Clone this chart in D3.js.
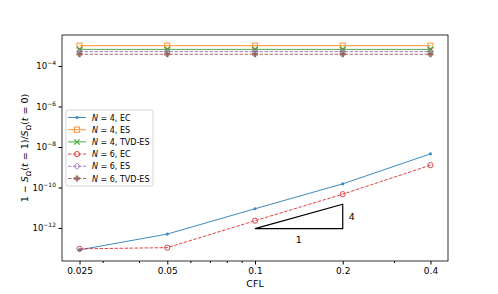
<!DOCTYPE html>
<html lang="en">
<head>
<meta charset="UTF-8">
<title>Entropy decay vs CFL</title>
<script src="https://d3js.org/d3.v7.min.js"></script>
<style>
    body { margin: 0; background: #fff; }
    text { font-family: "DejaVu Sans", sans-serif; fill: #000; }
</style>
</head>
<body>
<div id="chart"></div>
<script>
    // CFL values (x) and log10 of the entropy loss for each run
    const cfl = [0.025, 0.05, 0.1, 0.2, 0.4];
    const xTicks = [0.025, 0.05, 0.1, 0.2, 0.4];
    const xMinor = [0.03, 0.04, 0.06, 0.07, 0.08, 0.09, 0.3];
    const yTicks = [-12, -10, -8, -6, -4];

    const n4EC    = [-13.08, -12.30, -11.05, -9.82, -8.34];
    const n4ES    = [-3.00, -3.00, -3.00, -3.00, -3.00];
    const n4TVD   = [-3.18, -3.18, -3.18, -3.18, -3.18];
    const n6EC    = [-13.03, -12.97, -11.64, -10.33, -8.90];
    const n6ES    = [-3.29, -3.29, -3.29, -3.29, -3.29];
    const n6TVD   = [-3.42, -3.42, -3.42, -3.42, -3.42];

    const seriesNames = ["N4EC", "N4ES", "N4TVD", "N6EC", "N6ES", "N6TVD"];
    const seriesLabels = [["4", "EC"], ["4", "ES"], ["4", "TVD-ES"], ["6", "EC"], ["6", "ES"], ["6", "TVD-ES"]];
    const seriesValues = [n4EC, n4ES, n4TVD, n6EC, n6ES, n6TVD];
    const colors = ["#1f77b4", "#ff7f0e", "#2ca02c", "#d62728", "#9467bd", "#8c564b"];
    const markers = ["dot", "square", "x", "circle", "diamond", "plus"];
    const dashed = [false, false, false, true, true, true];

    // slope triangle: from CFL 0.1 to 0.2, order 4
    const triBase = -12.03;
    const triX = [0.1, 0.2];
    const triOrder = 4;

    const width = 498, height = 294;
    const margin = {left: 62, right: 50, top: 35, bottom: 33};

    const svg = d3.select("#chart").append("svg")
        .attr("width", width).attr("height", height);

    const x = d3.scaleLog()
        .domain([0.025 / Math.pow(2, 0.2), 0.4 * Math.pow(2, 0.2)])
        .range([margin.left, width - margin.right]);
    const y = d3.scaleLinear()
        .domain([-13.63, -2.47])
        .range([height - margin.bottom, margin.top]);

    const plotBottom = height - margin.bottom;

    // x axis
    const xAxis = svg.append("g").attr("transform", `translate(0,${plotBottom})`);
    xAxis.call(d3.axisBottom(x).tickValues(xTicks).tickFormat(d => String(d)).tickSize(3.5).tickPadding(3));
    xAxis.append("g").call(d3.axisBottom(x).tickValues(xMinor).tickFormat("").tickSize(2));
    xAxis.selectAll(".domain").remove();
    xAxis.selectAll("text").style("font-size", "9px");

    // y axis
    const yAxis = svg.append("g").attr("transform", `translate(${margin.left},0)`);
    yAxis.call(d3.axisLeft(y).tickValues(yTicks).tickFormat("").tickSize(3.5));
    yAxis.selectAll(".domain").remove();
    yTicks.forEach(t => {
        const lbl = yAxis.append("text")
            .attr("x", -6).attr("y", y(t) + 3.5)
            .attr("text-anchor", "end")
            .style("font-size", "8.5px");
        lbl.append("tspan").text("10");
        lbl.append("tspan").attr("dy", -4).style("font-size", "6px").text("\u2212" + Math.abs(t));
    });

    // frame
    svg.append("rect")
        .attr("x", margin.left).attr("y", margin.top)
        .attr("width", width - margin.left - margin.right)
        .attr("height", plotBottom - margin.top)
        .attr("fill", "none").attr("stroke", "#000").attr("stroke-width", 0.8);

    // axis labels
    svg.append("text")
        .attr("x", (margin.left + width - margin.right) / 2).attr("y", 287)
        .attr("text-anchor", "middle").style("font-size", "9.5px").text("CFL");

    const yl = svg.append("text")
        .attr("transform", `translate(28,${(margin.top + plotBottom) / 2}) rotate(-90)`)
        .attr("text-anchor", "middle").style("font-size", "9.5px");
    yl.append("tspan").text("1 \u2212 ");
    yl.append("tspan").style("font-style", "italic").text("S");
    yl.append("tspan").attr("dy", 2.5).style("font-size", "7px").text("\u03a9");
    yl.append("tspan").attr("dy", -2.5).text("(");
    yl.append("tspan").style("font-style", "italic").text("t");
    yl.append("tspan").text(" = 1)/");
    yl.append("tspan").style("font-style", "italic").text("S");
    yl.append("tspan").attr("dy", 2.5).style("font-size", "7px").text("\u03a9");
    yl.append("tspan").attr("dy", -2.5).text("(");
    yl.append("tspan").style("font-style", "italic").text("t");
    yl.append("tspan").text(" = 0)");

    function drawMarker(g, type, cx, cy, color) {
        if (type === "dot") {
            g.append("circle").attr("cx", cx).attr("cy", cy).attr("r", 1.6).attr("fill", color);
        } else if (type === "square") {
            g.append("rect").attr("x", cx - 2.6).attr("y", cy - 2.6).attr("width", 5.2).attr("height", 5.2)
                .attr("fill", "none").attr("stroke", color).attr("stroke-width", 1);
        } else if (type === "x") {
            g.append("path").attr("d", `M${cx-2.6},${cy-2.6}L${cx+2.6},${cy+2.6}M${cx-2.6},${cy+2.6}L${cx+2.6},${cy-2.6}`)
                .attr("stroke", color).attr("stroke-width", 1.2);
        } else if (type === "circle") {
            g.append("circle").attr("cx", cx).attr("cy", cy).attr("r", 2.6)
                .attr("fill", "none").attr("stroke", color).attr("stroke-width", 1);
        } else if (type === "diamond") {
            g.append("path").attr("d", `M${cx},${cy-3.1}L${cx+3.1},${cy}L${cx},${cy+3.1}L${cx-3.1},${cy}Z`)
                .attr("fill", "none").attr("stroke", color).attr("stroke-width", 1);
        } else if (type === "plus") {
            const a = 3, b = 1.2;
            g.append("path").attr("d",
                `M${cx-b},${cy-a}H${cx+b}V${cy-b}H${cx+a}V${cy+b}H${cx+b}V${cy+a}H${cx-b}V${cy+b}H${cx-a}V${cy-b}H${cx-b}Z`)
                .attr("fill", color);
        }
    }

    const line = d3.line().x(d => x(d[0])).y(d => y(d[1]));

    seriesValues.forEach((vals, i) => {
        const g = svg.append("g").attr("class", seriesNames[i]).attr("opacity", 0.85);
        const pts = cfl.map((c, j) => [c, vals[j]]);
        g.append("path").attr("d", line(pts))
            .attr("fill", "none").attr("stroke", colors[i]).attr("stroke-width", 1)
            .attr("stroke-dasharray", dashed[i] ? "3.5,1.5" : null);
        pts.forEach(p => drawMarker(g, markers[i], x(p[0]), y(p[1]), colors[i]));
    });

    // slope triangle
    const tx0 = x(triX[0]), tx1 = x(triX[1]);
    const ty0 = y(triBase), ty1 = y(triBase + triOrder * Math.log10(triX[1] / triX[0]));
    svg.append("path")
        .attr("d", `M${tx0},${ty0}L${tx1},${ty0}L${tx1},${ty1}Z`)
        .attr("fill", "none").attr("stroke", "#000").attr("stroke-width", 1.2);
    svg.append("text").attr("x", (tx0 + tx1) / 2).attr("y", ty0 + 14)
        .attr("text-anchor", "middle").style("font-size", "9.5px").text("1");
    svg.append("text").attr("x", tx1 + 6).attr("y", (ty0 + ty1) / 2 + 4)
        .style("font-size", "9.5px").text(String(triOrder));

    // legend
    const lg = svg.append("g").attr("transform", "translate(66,110)");
    lg.append("rect").attr("width", 87).attr("height", 76).attr("rx", 2)
        .attr("fill", "#fff").attr("fill-opacity", 0.8).attr("stroke", "#ccc").attr("stroke-width", 0.8);
    seriesValues.forEach((vals, i) => {
        const ry = 7.5 + i * 12.2;
        const e = lg.append("g").attr("opacity", 0.85);
        e.append("line").attr("x1", 2).attr("x2", 20).attr("y1", ry).attr("y2", ry)
            .attr("stroke", colors[i]).attr("stroke-width", 1)
            .attr("stroke-dasharray", dashed[i] ? "3.5,1.5" : null);
        drawMarker(e, markers[i], 11, ry, colors[i]);
        const t = lg.append("text").attr("x", 26).attr("y", ry + 3).style("font-size", "8px");
        t.append("tspan").style("font-style", "italic").text("N");
        t.append("tspan").text(` = ${seriesLabels[i][0]}, ${seriesLabels[i][1]}`);
    });
</script>
</body>
</html>
